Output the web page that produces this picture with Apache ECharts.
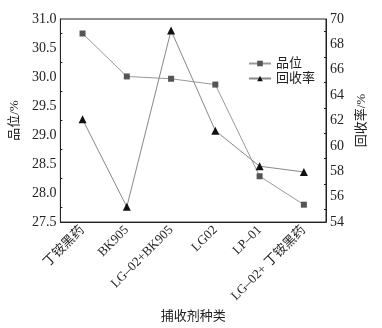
<!DOCTYPE html>
<html lang="zh">
<head>
    <meta charset="UTF-8">
    <title>品位与回收率</title>
    <script src="https://cdn.jsdelivr.net/npm/echarts@6/dist/echarts.min.js"></script>
    <style>
        html, body { margin: 0; padding: 0; background: #fff; }
        #main { width: 382px; height: 328px; }
    </style>
</head>
<body>
<div id="main"></div>
<script>
    // 捕收剂种类
    var categories = ['丁铵黑药', 'BK905', 'LG–02+BK905', 'LG02', 'LP–01', 'LG–02+ 丁铵黑药'];
    // 品位 /%
    var grade = [30.75, 30.01, 29.97, 29.87, 28.29, 27.80];
    // 回收率 /%
    var recovery = [62.1, 55.2, 69.1, 61.2, 58.4, 57.95];

    var font = '"Liberation Serif", "Noto Sans CJK SC", serif';

    var myChart = echarts.init(document.getElementById('main'));

    var option = {
        backgroundColor: '#fff',
        animation: false,
        grid: {
            left: 58, right: 56, top: 19, bottom: 90,
            show: true, borderColor: '#222', borderWidth: 1
        },
        legend: {
            orient: 'vertical',
            left: 243, top: 52,
            itemWidth: 22, itemHeight: 7, itemGap: 2,
            textStyle: { fontFamily: font, fontSize: 13, color: '#222' },
            data: ['品位', '回收率']
        },
        xAxis: {
            type: 'category',
            data: categories,
            name: '捕收剂种类',
            nameLocation: 'middle',
            nameGap: 74,
            nameTextStyle: { fontFamily: font, fontSize: 13, color: '#222' },
            axisLine: { lineStyle: { color: '#222' } },
            axisTick: { inside: true, alignWithLabel: true, length: 4, lineStyle: { color: '#222' } },
            axisLabel: { rotate: 45, fontFamily: font, fontSize: 13, color: '#222', margin: 6, interval: 0 }
        },
        yAxis: [{
            type: 'value',
            min: 27.5, max: 31, interval: 0.5,
            name: '品位/%',
            nameLocation: 'middle',
            nameGap: 30,
            nameRotate: 90,
            nameTextStyle: { fontFamily: font, fontSize: 13, color: '#222' },
            splitLine: { show: false },
            axisLine: { show: true, lineStyle: { color: '#222' } },
            axisTick: { inside: true, length: 4, lineStyle: { color: '#222' } },
            minorTick: { show: true, splitNumber: 2, length: 2, lineStyle: { color: '#222' } },
            axisLabel: {
                fontFamily: font, fontSize: 14, color: '#222', margin: 4,
                formatter: function (v) { return v.toFixed(1); }
            }
        }, {
            type: 'value',
            min: 54, max: 70, interval: 2,
            name: '回收率/%',
            nameLocation: 'middle',
            nameGap: 26,
            nameRotate: 90,
            nameTextStyle: { fontFamily: font, fontSize: 13, color: '#222' },
            splitLine: { show: false },
            axisLine: { show: true, lineStyle: { color: '#222' } },
            axisTick: { inside: true, length: 4, lineStyle: { color: '#222' } },
            minorTick: { show: true, splitNumber: 2, length: 2, lineStyle: { color: '#222' } },
            axisLabel: { fontFamily: font, fontSize: 14, color: '#222', margin: 4 }
        }],
        series: [{
            name: '品位',
            type: 'line',
            yAxisIndex: 0,
            data: grade,
            symbol: 'rect',
            symbolSize: 6,
            itemStyle: { color: '#555' },
            lineStyle: { color: '#999', width: 1 }
        }, {
            name: '回收率',
            type: 'line',
            yAxisIndex: 1,
            data: recovery,
            symbol: 'triangle',
            symbolSize: 8,
            itemStyle: { color: '#111' },
            lineStyle: { color: '#888', width: 1 }
        }]
    };

    myChart.setOption(option);
</script>
</body>
</html>
